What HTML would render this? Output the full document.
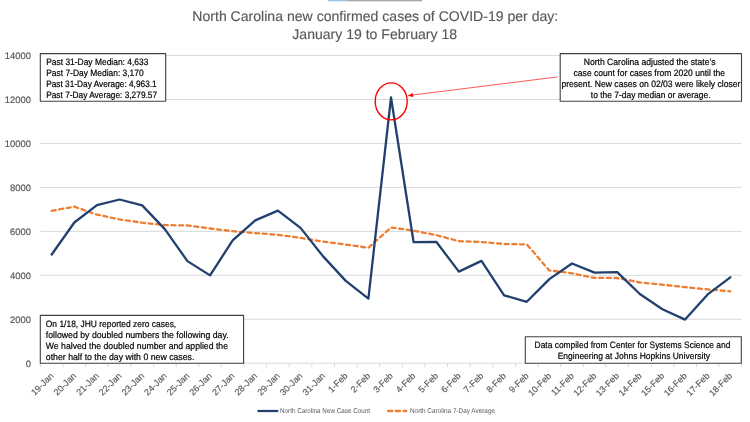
<!DOCTYPE html><html><head><meta charset="utf-8"><style>html,body{margin:0;padding:0;background:#fff;width:750px;height:422px;overflow:hidden}svg{display:block;will-change:transform}text{font-family:"Liberation Sans",sans-serif;text-rendering:geometricPrecision}</style></head><body>
<svg width="750" height="422" viewBox="0 0 750 422">
<rect x="0" y="0" width="750" height="422" fill="#fff"/>
<rect x="328" y="0" width="19" height="1.3" fill="#9dc3e6"/><rect x="347" y="0" width="75" height="1.3" fill="#a6a6a6"/>
<text x="192.3" y="20.7" font-size="14.1" fill="#595959" stroke="#595959" stroke-width="0.15" textLength="366" lengthAdjust="spacingAndGlyphs">North Carolina new confirmed cases of COVID-19 per day:</text>
<text x="292.3" y="39.2" font-size="14.1" fill="#595959" stroke="#595959" stroke-width="0.15" textLength="164.8" lengthAdjust="spacingAndGlyphs">January 19 to February 18</text>
<line x1="40.4" y1="55.5" x2="741.5" y2="55.5" stroke="#d9d9d9" stroke-width="1"/>
<line x1="40.4" y1="99.45" x2="741.5" y2="99.45" stroke="#d9d9d9" stroke-width="1"/>
<line x1="40.4" y1="143.4" x2="741.5" y2="143.4" stroke="#d9d9d9" stroke-width="1"/>
<line x1="40.4" y1="187.4" x2="741.5" y2="187.4" stroke="#d9d9d9" stroke-width="1"/>
<line x1="40.4" y1="231.35" x2="741.5" y2="231.35" stroke="#d9d9d9" stroke-width="1"/>
<line x1="40.4" y1="275.3" x2="741.5" y2="275.3" stroke="#d9d9d9" stroke-width="1"/>
<line x1="40.4" y1="319.25" x2="741.5" y2="319.25" stroke="#d9d9d9" stroke-width="1"/>
<line x1="40.4" y1="363.2" x2="741.5" y2="363.2" stroke="#d9d9d9" stroke-width="1"/>
<line x1="40.40" y1="363.2" x2="40.40" y2="367.2" stroke="#d9d9d9" stroke-width="1"/>
<line x1="63.02" y1="363.2" x2="63.02" y2="367.2" stroke="#d9d9d9" stroke-width="1"/>
<line x1="85.64" y1="363.2" x2="85.64" y2="367.2" stroke="#d9d9d9" stroke-width="1"/>
<line x1="108.26" y1="363.2" x2="108.26" y2="367.2" stroke="#d9d9d9" stroke-width="1"/>
<line x1="130.88" y1="363.2" x2="130.88" y2="367.2" stroke="#d9d9d9" stroke-width="1"/>
<line x1="153.50" y1="363.2" x2="153.50" y2="367.2" stroke="#d9d9d9" stroke-width="1"/>
<line x1="176.12" y1="363.2" x2="176.12" y2="367.2" stroke="#d9d9d9" stroke-width="1"/>
<line x1="198.74" y1="363.2" x2="198.74" y2="367.2" stroke="#d9d9d9" stroke-width="1"/>
<line x1="221.36" y1="363.2" x2="221.36" y2="367.2" stroke="#d9d9d9" stroke-width="1"/>
<line x1="243.98" y1="363.2" x2="243.98" y2="367.2" stroke="#d9d9d9" stroke-width="1"/>
<line x1="266.60" y1="363.2" x2="266.60" y2="367.2" stroke="#d9d9d9" stroke-width="1"/>
<line x1="289.22" y1="363.2" x2="289.22" y2="367.2" stroke="#d9d9d9" stroke-width="1"/>
<line x1="311.84" y1="363.2" x2="311.84" y2="367.2" stroke="#d9d9d9" stroke-width="1"/>
<line x1="334.46" y1="363.2" x2="334.46" y2="367.2" stroke="#d9d9d9" stroke-width="1"/>
<line x1="357.08" y1="363.2" x2="357.08" y2="367.2" stroke="#d9d9d9" stroke-width="1"/>
<line x1="379.70" y1="363.2" x2="379.70" y2="367.2" stroke="#d9d9d9" stroke-width="1"/>
<line x1="402.32" y1="363.2" x2="402.32" y2="367.2" stroke="#d9d9d9" stroke-width="1"/>
<line x1="424.94" y1="363.2" x2="424.94" y2="367.2" stroke="#d9d9d9" stroke-width="1"/>
<line x1="447.56" y1="363.2" x2="447.56" y2="367.2" stroke="#d9d9d9" stroke-width="1"/>
<line x1="470.18" y1="363.2" x2="470.18" y2="367.2" stroke="#d9d9d9" stroke-width="1"/>
<line x1="492.80" y1="363.2" x2="492.80" y2="367.2" stroke="#d9d9d9" stroke-width="1"/>
<line x1="515.42" y1="363.2" x2="515.42" y2="367.2" stroke="#d9d9d9" stroke-width="1"/>
<line x1="538.04" y1="363.2" x2="538.04" y2="367.2" stroke="#d9d9d9" stroke-width="1"/>
<line x1="560.66" y1="363.2" x2="560.66" y2="367.2" stroke="#d9d9d9" stroke-width="1"/>
<line x1="583.28" y1="363.2" x2="583.28" y2="367.2" stroke="#d9d9d9" stroke-width="1"/>
<line x1="605.90" y1="363.2" x2="605.90" y2="367.2" stroke="#d9d9d9" stroke-width="1"/>
<line x1="628.52" y1="363.2" x2="628.52" y2="367.2" stroke="#d9d9d9" stroke-width="1"/>
<line x1="651.14" y1="363.2" x2="651.14" y2="367.2" stroke="#d9d9d9" stroke-width="1"/>
<line x1="673.76" y1="363.2" x2="673.76" y2="367.2" stroke="#d9d9d9" stroke-width="1"/>
<line x1="696.38" y1="363.2" x2="696.38" y2="367.2" stroke="#d9d9d9" stroke-width="1"/>
<line x1="719.00" y1="363.2" x2="719.00" y2="367.2" stroke="#d9d9d9" stroke-width="1"/>
<line x1="741.62" y1="363.2" x2="741.62" y2="367.2" stroke="#d9d9d9" stroke-width="1"/>
<text x="30.9" y="58.90" font-size="9.4" fill="#595959" stroke="#595959" stroke-width="0.2" text-anchor="end">14000</text>
<text x="30.9" y="102.86" font-size="9.4" fill="#595959" stroke="#595959" stroke-width="0.2" text-anchor="end">12000</text>
<text x="30.9" y="146.81" font-size="9.4" fill="#595959" stroke="#595959" stroke-width="0.2" text-anchor="end">10000</text>
<text x="30.9" y="190.77" font-size="9.4" fill="#595959" stroke="#595959" stroke-width="0.2" text-anchor="end">8000</text>
<text x="30.9" y="234.73" font-size="9.4" fill="#595959" stroke="#595959" stroke-width="0.2" text-anchor="end">6000</text>
<text x="30.9" y="278.68" font-size="9.4" fill="#595959" stroke="#595959" stroke-width="0.2" text-anchor="end">4000</text>
<text x="30.9" y="322.64" font-size="9.4" fill="#595959" stroke="#595959" stroke-width="0.2" text-anchor="end">2000</text>
<text x="30.9" y="366.60" font-size="9.4" fill="#595959" stroke="#595959" stroke-width="0.2" text-anchor="end">0</text>
<text x="0" y="0" font-size="9" fill="#595959" stroke="#595959" stroke-width="0.15" text-anchor="end" transform="translate(54.21,376.50) rotate(-45)">19-Jan</text>
<text x="0" y="0" font-size="9" fill="#595959" stroke="#595959" stroke-width="0.15" text-anchor="end" transform="translate(76.83,376.50) rotate(-45)">20-Jan</text>
<text x="0" y="0" font-size="9" fill="#595959" stroke="#595959" stroke-width="0.15" text-anchor="end" transform="translate(99.45,376.50) rotate(-45)">21-Jan</text>
<text x="0" y="0" font-size="9" fill="#595959" stroke="#595959" stroke-width="0.15" text-anchor="end" transform="translate(122.07,376.50) rotate(-45)">22-Jan</text>
<text x="0" y="0" font-size="9" fill="#595959" stroke="#595959" stroke-width="0.15" text-anchor="end" transform="translate(144.69,376.50) rotate(-45)">23-Jan</text>
<text x="0" y="0" font-size="9" fill="#595959" stroke="#595959" stroke-width="0.15" text-anchor="end" transform="translate(167.31,376.50) rotate(-45)">24-Jan</text>
<text x="0" y="0" font-size="9" fill="#595959" stroke="#595959" stroke-width="0.15" text-anchor="end" transform="translate(189.93,376.50) rotate(-45)">25-Jan</text>
<text x="0" y="0" font-size="9" fill="#595959" stroke="#595959" stroke-width="0.15" text-anchor="end" transform="translate(212.55,376.50) rotate(-45)">26-Jan</text>
<text x="0" y="0" font-size="9" fill="#595959" stroke="#595959" stroke-width="0.15" text-anchor="end" transform="translate(235.17,376.50) rotate(-45)">27-Jan</text>
<text x="0" y="0" font-size="9" fill="#595959" stroke="#595959" stroke-width="0.15" text-anchor="end" transform="translate(257.79,376.50) rotate(-45)">28-Jan</text>
<text x="0" y="0" font-size="9" fill="#595959" stroke="#595959" stroke-width="0.15" text-anchor="end" transform="translate(280.41,376.50) rotate(-45)">29-Jan</text>
<text x="0" y="0" font-size="9" fill="#595959" stroke="#595959" stroke-width="0.15" text-anchor="end" transform="translate(303.03,376.50) rotate(-45)">30-Jan</text>
<text x="0" y="0" font-size="9" fill="#595959" stroke="#595959" stroke-width="0.15" text-anchor="end" transform="translate(325.65,376.50) rotate(-45)">31-Jan</text>
<text x="0" y="0" font-size="9" fill="#595959" stroke="#595959" stroke-width="0.15" text-anchor="end" transform="translate(348.27,376.50) rotate(-45)">1-Feb</text>
<text x="0" y="0" font-size="9" fill="#595959" stroke="#595959" stroke-width="0.15" text-anchor="end" transform="translate(370.89,376.50) rotate(-45)">2-Feb</text>
<text x="0" y="0" font-size="9" fill="#595959" stroke="#595959" stroke-width="0.15" text-anchor="end" transform="translate(393.51,376.50) rotate(-45)">3-Feb</text>
<text x="0" y="0" font-size="9" fill="#595959" stroke="#595959" stroke-width="0.15" text-anchor="end" transform="translate(416.13,376.50) rotate(-45)">4-Feb</text>
<text x="0" y="0" font-size="9" fill="#595959" stroke="#595959" stroke-width="0.15" text-anchor="end" transform="translate(438.75,376.50) rotate(-45)">5-Feb</text>
<text x="0" y="0" font-size="9" fill="#595959" stroke="#595959" stroke-width="0.15" text-anchor="end" transform="translate(461.37,376.50) rotate(-45)">6-Feb</text>
<text x="0" y="0" font-size="9" fill="#595959" stroke="#595959" stroke-width="0.15" text-anchor="end" transform="translate(483.99,376.50) rotate(-45)">7-Feb</text>
<text x="0" y="0" font-size="9" fill="#595959" stroke="#595959" stroke-width="0.15" text-anchor="end" transform="translate(506.61,376.50) rotate(-45)">8-Feb</text>
<text x="0" y="0" font-size="9" fill="#595959" stroke="#595959" stroke-width="0.15" text-anchor="end" transform="translate(529.23,376.50) rotate(-45)">9-Feb</text>
<text x="0" y="0" font-size="9" fill="#595959" stroke="#595959" stroke-width="0.15" text-anchor="end" transform="translate(551.85,376.50) rotate(-45)">10-Feb</text>
<text x="0" y="0" font-size="9" fill="#595959" stroke="#595959" stroke-width="0.15" text-anchor="end" transform="translate(574.47,376.50) rotate(-45)">11-Feb</text>
<text x="0" y="0" font-size="9" fill="#595959" stroke="#595959" stroke-width="0.15" text-anchor="end" transform="translate(597.09,376.50) rotate(-45)">12-Feb</text>
<text x="0" y="0" font-size="9" fill="#595959" stroke="#595959" stroke-width="0.15" text-anchor="end" transform="translate(619.71,376.50) rotate(-45)">13-Feb</text>
<text x="0" y="0" font-size="9" fill="#595959" stroke="#595959" stroke-width="0.15" text-anchor="end" transform="translate(642.33,376.50) rotate(-45)">14-Feb</text>
<text x="0" y="0" font-size="9" fill="#595959" stroke="#595959" stroke-width="0.15" text-anchor="end" transform="translate(664.95,376.50) rotate(-45)">15-Feb</text>
<text x="0" y="0" font-size="9" fill="#595959" stroke="#595959" stroke-width="0.15" text-anchor="end" transform="translate(687.57,376.50) rotate(-45)">16-Feb</text>
<text x="0" y="0" font-size="9" fill="#595959" stroke="#595959" stroke-width="0.15" text-anchor="end" transform="translate(710.19,376.50) rotate(-45)">17-Feb</text>
<text x="0" y="0" font-size="9" fill="#595959" stroke="#595959" stroke-width="0.15" text-anchor="end" transform="translate(732.81,376.50) rotate(-45)">18-Feb</text>
<polyline points="51.71,210.8 74.33,206.7 96.95,214.6 119.57,219.4 142.19,222.7 164.81,225.1 187.43,225.5 210.05,228.5 232.67,231.2 255.29,233.1 277.91,234.8 300.53,237.9 323.15,241.7 345.77,244.5 368.39,247.8 391.01,227.5 413.63,230.7 436.25,235.1 458.87,241.2 481.49,242.0 504.11,244.0 526.73,244.4 549.35,270.4 571.97,273.3 594.59,277.9 617.21,278.0 639.83,282.5 662.45,284.7 685.07,287.1 707.69,289.4 730.31,291.3" fill="none" stroke="#ed7d31" stroke-width="2.3" stroke-dasharray="4.0 3.645" stroke-linecap="round" stroke-linejoin="round"/>
<polyline points="51.71,254.5 74.33,222.5 96.95,205.2 119.57,199.5 142.19,205.4 164.81,229.1 187.43,261.1 210.05,275.4 232.67,240.4 255.29,220.4 277.91,210.6 300.53,227.9 323.15,256.4 345.77,280.9 368.39,298.6 391.01,97.5 413.63,242.2 436.25,241.8 458.87,271.6 481.49,260.9 504.11,295.3 526.73,301.8 549.35,279.1 571.97,263.5 594.59,272.6 617.21,272.2 639.83,294.0 662.45,309.3 685.07,319.6 707.69,294.4 730.31,277.3" fill="none" stroke="#22406e" stroke-width="2.3" stroke-linejoin="round" stroke-linecap="round"/>
<rect x="40.3" y="53.6" width="125.40" height="47.60" fill="#fff" stroke="#404040" stroke-width="1.1" stroke-linejoin="round"/>
<text x="46.20" y="64.90" font-size="9.2" fill="#000" stroke="#000" stroke-width="0.2" textLength="102.20" lengthAdjust="spacingAndGlyphs">Past 31-Day Median: 4,633</text>
<text x="46.20" y="76.10" font-size="9.2" fill="#000" stroke="#000" stroke-width="0.2" textLength="97.50" lengthAdjust="spacingAndGlyphs">Past 7-Day Median: 3,170</text>
<text x="46.20" y="87.40" font-size="9.2" fill="#000" stroke="#000" stroke-width="0.2" textLength="110.50" lengthAdjust="spacingAndGlyphs">Past 31-Day Average: 4,963.1</text>
<text x="46.20" y="98.40" font-size="9.2" fill="#000" stroke="#000" stroke-width="0.2" textLength="110.90" lengthAdjust="spacingAndGlyphs">Past 7-Day Average: 3,279.57</text>
<rect x="560.2" y="53.6" width="181.30" height="47.70" fill="#fff" stroke="#404040" stroke-width="1.1" stroke-linejoin="round"/>
<text x="583.70" y="64.90" font-size="9.2" fill="#000" stroke="#000" stroke-width="0.2" textLength="131.80" lengthAdjust="spacingAndGlyphs">North Carolina adjusted the state’s</text>
<text x="573.60" y="75.60" font-size="9.2" fill="#000" stroke="#000" stroke-width="0.2" textLength="151.50" lengthAdjust="spacingAndGlyphs">case count for cases from 2020 until the</text>
<text x="561.40" y="86.80" font-size="9.2" fill="#000" stroke="#000" stroke-width="0.2" textLength="179.00" lengthAdjust="spacingAndGlyphs">present. New cases on 02/03 were likely closer</text>
<text x="590.80" y="97.60" font-size="9.2" fill="#000" stroke="#000" stroke-width="0.2" textLength="119.70" lengthAdjust="spacingAndGlyphs">to the 7-day median or average.</text>
<rect x="40.3" y="315.4" width="203.30" height="47.80" fill="#fff" stroke="#404040" stroke-width="1.1" stroke-linejoin="round"/>
<text x="45.80" y="327.20" font-size="9.2" fill="#000" stroke="#000" stroke-width="0.2" textLength="130.40" lengthAdjust="spacingAndGlyphs">On 1/18, JHU reported zero cases,</text>
<text x="45.80" y="338.20" font-size="9.2" fill="#000" stroke="#000" stroke-width="0.2" textLength="182.80" lengthAdjust="spacingAndGlyphs">followed by doubled numbers the following day.</text>
<text x="45.80" y="349.20" font-size="9.2" fill="#000" stroke="#000" stroke-width="0.2" textLength="182.20" lengthAdjust="spacingAndGlyphs">We halved the doubled number and applied the</text>
<text x="45.80" y="360.20" font-size="9.2" fill="#000" stroke="#000" stroke-width="0.2" textLength="148.60" lengthAdjust="spacingAndGlyphs">other half to the day with 0 new cases.</text>
<rect x="525.3" y="336.7" width="216.00" height="26.60" fill="#fff" stroke="#404040" stroke-width="1.1" stroke-linejoin="round"/>
<text x="534.60" y="348.00" font-size="9.2" fill="#000" stroke="#000" stroke-width="0.2" textLength="195.80" lengthAdjust="spacingAndGlyphs">Data compiled from Center for Systems Science and</text>
<text x="557.70" y="359.00" font-size="9.2" fill="#000" stroke="#000" stroke-width="0.2" textLength="152.30" lengthAdjust="spacingAndGlyphs">Engineering at Johns Hopkins University</text>
<ellipse cx="391.2" cy="101.4" rx="16.0" ry="18.5" fill="none" stroke="#ff0000" stroke-width="1.4"/>
<line x1="557.6" y1="76.9" x2="412.6" y2="95.04" stroke="#ff0000" stroke-width="0.65"/>
<polygon points="407.6,95.65 413.2,97.0 412.7,93.0" fill="#ff0000"/>
<line x1="257.5" y1="411" x2="278.3" y2="411" stroke="#22406e" stroke-width="2.25"/>
<text x="280" y="413.4" font-size="7" fill="#595959" textLength="90" lengthAdjust="spacingAndGlyphs">North Carolina New Case Count</text>
<line x1="387" y1="411" x2="406.3" y2="411" stroke="#ed7d31" stroke-width="2.3" stroke-dasharray="4.2 3.5" stroke-linecap="round" stroke-dashoffset="-1.1"/>
<text x="410" y="413.4" font-size="7" fill="#595959" textLength="85" lengthAdjust="spacingAndGlyphs">North Carolina 7-Day Average</text>
</svg></body></html>
